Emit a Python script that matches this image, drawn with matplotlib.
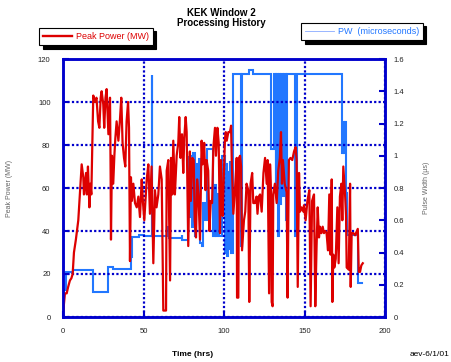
import matplotlib
matplotlib.use("Agg")
import matplotlib.pyplot as plt
from matplotlib.lines import Line2D

plt.rcParams['font.family'] = ['Liberation Sans', 'DejaVu Sans']

# ---------------- data ----------------
power_time = [0.2, 0.8, 1.2, 2.3, 3.2, 4.3, 5.2, 6.0, 6.8, 8.0, 9.5, 10.5, 11.6, 12.6, 13.0, 14.3,
              14.8, 15.5, 16.4, 16.9, 17.6, 18.8, 19.8, 20.8, 21.8, 22.6, 23.4, 24.0, 25.0, 25.6,
              26.4, 27.1, 28.2, 29.2, 29.6, 29.8, 30.4, 31.2, 31.9, 32.5, 33.3, 34.4, 35.4, 36.2,
              37.0, 37.9, 38.7, 39.5, 40.4, 41.0, 41.6, 42.2, 42.8, 43.7, 44.7, 45.8, 46.8, 47.8,
              48.9, 49.6, 50.5, 52.0, 53.0, 54.0, 55.0, 56.1, 57.1, 58.1, 59.2, 60.2, 61.3, 62.3,
              64.0, 64.4, 65.4, 66.5, 67.1, 67.9, 68.5, 69.5, 70.6, 71.6, 72.2, 73.0, 73.9, 74.7,
              75.3, 76.2, 76.8, 77.8, 78.8, 79.4, 80.4, 81.2, 81.8, 82.6, 83.3, 84.1, 85.1, 86.1,
              86.7, 87.7, 88.5, 89.2, 90.2, 90.9, 91.8, 92.6, 93.4, 94.4, 95.0, 95.9, 96.7, 97.5,
              98.1, 98.6, 99.2, 99.6, 100.6, 101.1, 101.7, 102.7, 103.7, 104.4, 104.8, 105.8, 106.8,
              107.9, 108.1, 108.9, 109.3, 110.0, 110.6, 111.2, 112.4, 113.2, 114.0, 115.1, 115.7,
              116.5, 117.5, 118.2, 119.2, 120.2, 120.8, 121.6, 122.4, 123.4, 124.5, 125.5, 126.5,
              127.1, 128.0, 128.6, 129.2, 129.6, 130.2, 130.6, 131.6, 132.7, 133.7, 134.7, 135.4,
              136.0, 136.6, 137.7, 138.9, 139.5, 140.3, 141.3, 142.4, 143.5, 144.5, 145.1, 145.8,
              146.6, 147.2, 148.2, 149.3, 149.7, 150.7, 151.8, 153.0, 153.8, 154.7, 155.9, 156.7,
              157.5, 158.2, 159.0, 159.6, 160.5, 161.3, 162.1, 162.9, 163.7, 164.6, 165.4, 166.2,
              166.9, 167.3, 167.9, 168.5, 169.4, 170.4, 171.2, 172.0, 172.9, 173.5, 174.1, 175.2,
              175.8, 176.2, 177.5, 178.3, 178.7, 179.3, 180.4, 181.4, 182.5, 183.1, 183.7, 184.5,
              185.3, 186.2]
power_mw = [3, 8, 11, 11, 14, 17, 18, 20, 30, 36, 45, 57, 71, 65, 57, 67,
            57, 70, 51, 62, 57, 103, 100, 102, 91, 88, 102, 105, 99, 88,
            102, 106, 85, 102, 65, 36, 75, 62, 75, 83, 91, 82, 92, 102,
            81, 74, 70, 91, 100, 88, 26, 65, 54, 62, 53, 51, 56, 46.5,
            64, 54, 45, 64, 71, 48, 70, 25, 59, 51, 57, 70, 64, 3,
            3, 68, 73, 17, 74, 57, 82, 57, 75, 81, 93, 74, 85, 67,
            83, 93, 86, 33, 77, 54, 74, 73, 45, 37, 64, 57, 36, 82,
            71, 81, 59, 73, 68, 40, 54, 53, 79, 88, 75, 88, 81, 39,
            73, 51, 47, 59, 83, 86, 82, 86, 86, 89, 73, 48, 59,
            74, 9, 9, 74, 75, 70, 31, 45, 49, 62, 59, 7,
            62, 67, 53, 53, 56, 48, 56, 57, 49, 67, 74, 62,
            73, 11, 71, 59, 7, 5, 57, 62, 53, 68, 74, 86,
            62, 73, 62, 58, 9, 73, 74, 73, 77, 79, 73, 14,
            67, 49, 51, 49, 52, 45, 54, 59, 5, 54, 57, 5,
            33, 51, 37, 42, 39, 42, 39, 40, 39, 31, 57, 29,
            64, 7, 29, 23, 27, 51, 25, 56, 62, 45, 70, 57,
            47, 23, 22, 62, 14, 39, 39, 38, 40, 41, 21, 21,
            24, 25]

pw_time = [0, 1.9, 5.4, 6.2, 18.8, 28.1, 31.0, 42.3, 42.7, 47.0, 50.0, 55.0, 55.3, 65.3, 65.6,
           73.7, 74.2, 77.8, 78.6, 79.4, 80.2, 81.0, 82.0, 82.6, 83.4, 84.2, 85.1, 86.1, 87.2,
           88.0, 89.2, 93.4, 94.4, 95.2, 95.9, 96.6, 98.6, 100.6, 101.2, 101.7, 102.4, 103.0,
           103.6, 104.2, 105.4, 110.3, 110.9, 115.7, 118.2, 129.0, 130.8, 132.0, 132.5, 133.5,
           134.0, 135.0, 135.6, 136.8, 137.4, 138.4, 139.0, 144.1, 145.3, 173.1, 173.6, 174.0,
           174.6, 175.2, 175.8, 176.2, 183.4, 186.0]
pw_us = [0.17, 0.28, 0.27, 0.29, 0.157, 0.31, 0.30, 0.37, 0.495, 0.51, 0.50, 1.50, 0.50, 0.56, 0.49,
         0.51, 0.48, 0.99, 0.62, 1.00, 0.56, 1.02, 0.50, 0.95, 0.70, 0.98, 0.46, 0.44, 0.71,
         0.60, 1.04, 0.50, 0.82, 0.50, 0.76, 0.50, 1.00, 0.40, 0.95, 0.38, 0.90, 0.42,
         0.96, 0.40, 1.51, 0.44, 1.51, 1.53, 1.51, 1.04, 1.51, 0.80, 1.51, 0.50,
         1.51, 0.70, 1.51, 0.75, 1.51, 0.60, 1.51, 0.50, 1.51, 1.21, 1.02, 1.21,
         1.02, 1.21, 0.77, 0.51, 0.21, 0.21]

x_ticks = [0, 50, 100, 150, 200]
left_ticks = [0, 20, 40, 60, 80, 100, 120]
right_ticks = [0, 0.2, 0.4, 0.6, 0.8, 1.0, 1.2, 1.4, 1.6]
right_labels = ['0', '0.2', '0.4', '0.6', '0.8', '1', '1.2', '1.4', '1.6']

# ---------------- figure ----------------
W, H = 452, 362
fig = plt.figure(figsize=(W / 100, H / 100), dpi=100)
ax = fig.add_axes([63 / W, 1 - 317 / H, (385 - 63) / W, (317 - 59) / H])
ax2 = ax.twinx()

RED = '#DD0000'
BLUE_PW = '#2277FF'
FRAME = '#0000CC'

ax2.plot(pw_time, pw_us, drawstyle='steps-post', color=BLUE_PW, lw=1.5, solid_joinstyle='miter')
ax.plot(power_time, power_mw, color=RED, lw=1.6)

ax.set_zorder(ax2.get_zorder() + 1)
ax.patch.set_visible(False)

ax.set_xlim(0, 200)
ax.set_ylim(0, 120)
ax2.set_ylim(0, 1.6)
ax.set_xticks(x_ticks)
ax.set_yticks(left_ticks)
ax2.set_yticks(right_ticks)
ax2.set_yticklabels(right_labels)

ax.grid(True, color=FRAME, linestyle=(0, (1, 1)), lw=1.6)
ax.set_axisbelow(True)

for a in (ax, ax2):
    for s in a.spines.values():
        s.set_color(FRAME)
        s.set_linewidth(1.8)
    a.tick_params(direction='in', color=FRAME, width=1.5, length=4,
                  labelsize=5.5, labelcolor='#222222', pad=6)
ax.tick_params(axis='y', pad=9)
ax2.tick_params(axis='y', pad=6)
ax.tick_params(axis='x', pad=8)

fig.text(10 / W, 1 - 188 / H, 'Peak Power (MW)', rotation=90, ha='center', va='center',
         fontsize=5, color='#666666')
fig.text(427 / W, 1 - 188 / H, 'Pulse Width (µs)', rotation=90, ha='center', va='center',
         fontsize=5, color='#666666')

fig.text(0.49, 0.950, 'KEK Window 2\nProcessing History', ha='center', va='center',
         fontsize=7, fontweight='bold', linespacing=1.05)
fig.text(193 / W, 1 - 355 / H, 'Time (hrs)', ha='center', va='center', fontsize=6, fontweight='bold')
fig.text(410 / W, 1 - 355 / H, 'aev-6/1/01', ha='left', va='center', fontsize=6)

shadow = dict(color='black', alpha=1, ox=2.5, oy=-2.5)
h1 = [Line2D([], [], color=RED, lw=1.7)]
leg1 = fig.legend(h1, ['Peak Power (MW)'], loc='center', bbox_to_anchor=(96 / W, 1 - 36.5 / H),
                  fontsize=6.5, frameon=True, fancybox=False, edgecolor='black',
                  handlelength=3.2, borderpad=0.45, handletextpad=0.4, labelcolor=RED,
                  shadow=shadow)
leg1.get_frame().set_linewidth(0.8)
h2 = [Line2D([], [], color='#88AAFF', lw=0.6)]
leg2 = fig.legend(h2, ['PW  (microseconds)'], loc='center', bbox_to_anchor=(362 / W, 1 - 31.5 / H),
                  fontsize=6.5, frameon=True, fancybox=False, edgecolor='black',
                  handlelength=3.2, borderpad=0.45, handletextpad=0.4, labelcolor=BLUE_PW,
                  shadow=shadow)
leg2.get_frame().set_linewidth(0.8)

fig.savefig('out.png', dpi=100)
